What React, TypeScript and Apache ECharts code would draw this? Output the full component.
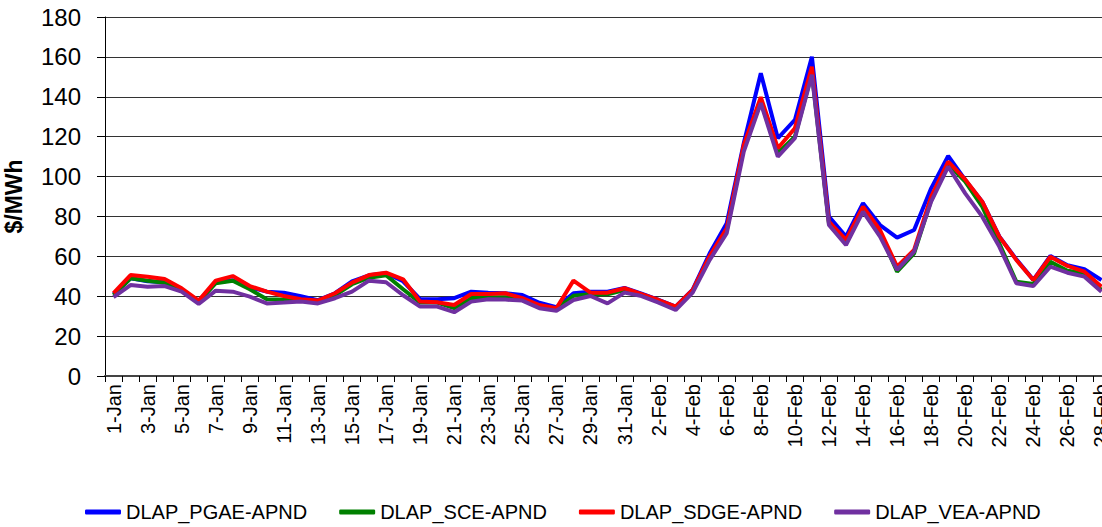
import React, { useEffect, useRef } from "react";
import * as echarts from "echarts";

const janDays: string[] = Array.from({ length: 31 }, (_, i) => `${i + 1}-Jan`);
const febDays: string[] = Array.from({ length: 28 }, (_, i) => `${i + 1}-Feb`);
const categories: string[] = [...janDays, ...febDays];

const yTicks = { min: 0, max: 180, interval: 20 };

const pgae: number[] = [
  41, 49, 47.5, 47, 43, 37.5, 47, 48, 44.5, 42.3, 41.8, 40, 38, 41.5, 47.4, 50.5, 51.5, 47.5, 38.5, 38.5,
  39, 42.3, 41.8, 41.5, 40.6, 36.7, 34.5, 41.5, 42.3, 42.3, 44.2, 41.3, 38.2, 34.8, 43.3, 61.5, 76.6, 116.7, 151.8, 119.2,
  128.4, 160.1, 79.9, 69.9, 86.6, 75.7, 69.4, 73.2, 94.1, 110.3, 98.3, 87.4, 70, 58.5, 48.2, 60.2, 55.5, 53.5, 48.1,
];
const sce: number[] = [
  40.5, 49, 47.8, 46.8, 43, 37, 46.5, 47.8, 43.5, 38.5, 38.3, 38, 37.2, 40.5, 46, 49.3, 50.5, 43.5, 36.8, 36.8,
  34, 39, 39.5, 39.5, 38.5, 35, 33.5, 40.2, 41, 41, 43.1, 40.8, 37.5, 34, 42.5, 59.5, 73, 114.5, 137.6, 111.7,
  120, 151.8, 76.5, 67, 83.8, 71.6, 52.3, 61.5, 88.2, 106.3, 97.5, 84.9, 66.5, 47.3, 46.1, 57.3, 52.8, 51.6, 43.1,
];
const sdge: number[] = [
  41.5, 50.6, 49.8, 48.6, 44, 37.8, 47.8, 50.1, 45.1, 42.3, 40.1, 38.5, 37.8, 41.5, 46.8, 50.6, 51.8, 48.5, 37.3, 37,
  35.6, 41.1, 41.1, 41.5, 39, 35.6, 34, 47.8, 41.8, 41.8, 44, 41.1, 38.1, 34.8, 43.1, 60.2, 74.1, 115.8, 139.8, 114.2,
  124.2, 155.1, 77.4, 68.2, 84.9, 73.2, 54.8, 63.2, 89.9, 107.5, 98.6, 87.4, 69.9, 58.2, 48.1, 59.8, 55.2, 52.3, 44.8,
];
const vea: number[] = [
  39.5, 45.6, 44.8, 45.1, 42.3, 36.1, 42.8, 42.3, 39.8, 36.4, 36.8, 37.3, 36.4, 39, 42.3, 47.8, 47, 40.5, 34.8, 34.8,
  32, 37.3, 38.5, 38.3, 37.8, 34, 32.7, 38.1, 40.1, 36.4, 41.8, 40.1, 36.8, 33.1, 41.8, 58.2, 71.6, 112.5, 136.8, 110,
  119.2, 151, 75.7, 65.7, 82.4, 69.9, 53.2, 62.4, 87.4, 105, 91.6, 79.9, 64.9, 46.5, 45.1, 54.8, 51.8, 49.8, 42.3,
];

const seriesNames = ["DLAP_PGAE-APND", "DLAP_SCE-APND", "DLAP_SDGE-APND", "DLAP_VEA-APND"];
const seriesColors = ["#0000FF", "#008000", "#FF0000", "#7030A0"];
const seriesData = [pgae, sce, sdge, vea];

const FONT = "'Liberation Sans', Arial, sans-serif";

export default function App() {
  const ref = useRef<HTMLDivElement>(null);

  useEffect(() => {
    if (!ref.current) return;
    const chart = echarts.init(ref.current, null, { renderer: "svg" });
    chart.setOption({
      animation: false,
      backgroundColor: "#ffffff",
      textStyle: { fontFamily: FONT },
      grid: {
        left: 105,
        right: -8,
        top: 17,
        bottom: 151,
        containLabel: false,
        outerBoundsMode: "none",
      },
      legend: {
        data: seriesNames,
        top: 502,
        left: 85,
        padding: 0,
        icon: "roundRect",
        itemWidth: 36,
        itemHeight: 5,
        itemGap: 32,
        textStyle: { fontSize: 20, color: "#000", fontFamily: FONT },
      },
      xAxis: {
        type: "category",
        data: categories,
        boundaryGap: true,
        axisLine: { show: true, lineStyle: { color: "#444", width: 2 } },
        axisTick: { show: true, interval: 0, length: 6, lineStyle: { color: "#000" } },
        axisLabel: {
          interval: 1,
          rotate: 90,
          fontSize: 20,
          color: "#000",
          margin: 8,
          fontFamily: FONT,
        },
        splitLine: { show: false },
      },
      yAxis: {
        type: "value",
        min: yTicks.min,
        max: yTicks.max,
        interval: yTicks.interval,
        name: "$/MWh",
        nameLocation: "middle",
        nameGap: 80,
        nameTextStyle: { fontSize: 23, fontWeight: "bold", color: "#000", fontFamily: FONT },
        axisLine: { show: true, lineStyle: { color: "#000", width: 1 } },
        axisTick: { show: true, length: 8, lineStyle: { color: "#000" } },
        axisLabel: { fontSize: 24, color: "#000", margin: 24, fontFamily: FONT },
        splitLine: { show: true, lineStyle: { color: "#333", width: 1 } },
      },
      series: seriesNames.map((name, i) => ({
        name,
        type: "line",
        data: seriesData[i],
        symbol: "none",
        showSymbol: false,
        color: seriesColors[i],
        lineStyle: { width: 4, color: seriesColors[i] },
        itemStyle: { color: seriesColors[i] },
        z: 2 + i,
      })),
    });
    return () => chart.dispose();
  }, []);

  return (
    <div
      ref={ref}
      style={{ position: "fixed", left: 0, top: 0, width: 1102, height: 527, background: "#fff" }}
    />
  );
}
